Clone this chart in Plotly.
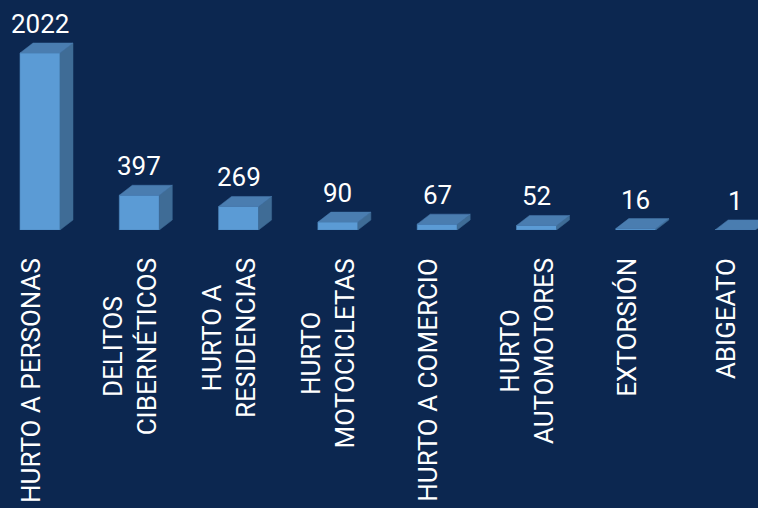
import plotly.graph_objects as go

categories = ["HURTO A PERSONAS", "DELITOS<br>CIBERNÉTICOS", "HURTO A<br>RESIDENCIAS",
              "HURTO<br>MOTOCICLETAS", "HURTO A COMERCIO", "HURTO<br>AUTOMOTORES",
              "EXTORSIÓN", "ABIGEATO"]
values = [2022, 397, 269, 90, 67, 52, 16, 1]

W, H = 758, 508
BG = "#0c2750"
FRONT = "#5b9bd5"
SIDE = "#3f6c96"
TOP = "#4a7db0"

# pixel geometry (layout only)
px_per_cat = 99.3
x0_px = 40.0
base_px = 230.0
px_per_val = 177.0 / 2022
bar_w = 40.0 / px_per_cat
dx = 13.0 / px_per_cat
dy = 10.0 / px_per_val

xr = [-x0_px / px_per_cat, (W - x0_px) / px_per_cat]
yr = [0, base_px / px_per_val]
ydom = [1 - base_px / H, 1]

xs = list(range(len(values)))

fig = go.Figure()

# side faces
for x, v in zip(xs, values):
    r = x + bar_w / 2
    fig.add_trace(go.Scatter(
        x=[r, r + dx, r + dx, r, r], y=[0, dy, v + dy, v, 0],
        fill="toself", fillcolor=SIDE, mode="lines",
        line=dict(color=SIDE, width=0.5), hoverinfo="skip", showlegend=False))
# front faces
fig.add_trace(go.Bar(x=xs, y=values, width=bar_w, marker=dict(color=FRONT, line=dict(color="#4f88bd", width=0.6)),
                     showlegend=False, hoverinfo="skip"))
# top faces
for x, v in zip(xs, values):
    l = x - bar_w / 2
    r = x + bar_w / 2
    fig.add_trace(go.Scatter(
        x=[l, r, r + dx, l + dx, l], y=[v, v, v + dy, v + dy, v],
        fill="toself", fillcolor=TOP, mode="lines",
        line=dict(color=TOP, width=0.5), hoverinfo="skip", showlegend=False))

annotations = []
for x, v in zip(xs, values):
    annotations.append(dict(x=x, y=v + dy, xref="x", yref="y", text=str(v),
                            showarrow=False, yanchor="bottom", yshift=2,
                            font=dict(family="Roboto", size=26, color="white")))
for x, c in zip(xs, categories):
    annotations.append(dict(x=x, y=1 - 256 / H, xref="x", yref="paper", text=c,
                            showarrow=False, yanchor="top", xanchor="center", textangle=-90,
                            align="center", xshift=-9.5,
                            font=dict(family="Roboto", size=26, color="white")))

fig.update_layout(
    width=W, height=H, margin=dict(l=0, r=0, t=0, b=0),
    paper_bgcolor=BG, plot_bgcolor=BG,
    xaxis=dict(range=xr, visible=False, showgrid=False, zeroline=False, fixedrange=True),
    yaxis=dict(range=yr, domain=ydom, visible=False, showgrid=False, zeroline=False, fixedrange=True),
    annotations=annotations, bargap=0,
)

fig.write_html("out.html", config={"displayModeBar": False, "staticPlot": True},
               post_script="document.body.style.margin='0';document.body.style.background='%s';" % BG)
